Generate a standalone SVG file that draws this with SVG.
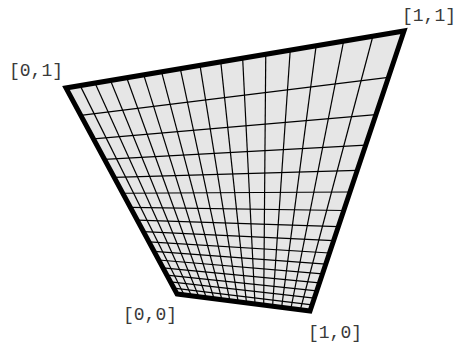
<svg xmlns="http://www.w3.org/2000/svg" width="457" height="345" viewBox="0 0 457 345">
<style>
.lbl{font-family:"Liberation Mono","DejaVu Sans Mono",monospace;font-size:18px;fill:#3a3a3a}
.grid line{stroke:#000;stroke-width:1.2}
.quad{fill:#e6e6e6;stroke:none}
.outline{fill:none;stroke:#000;stroke-width:5;stroke-linejoin:miter}
</style>
<g id="quad-fill"><polygon class="quad" points="177,294 310,311 404,31 66,88"/></g>
<g id="connectors" class="grid">
<line x1="184.14" y1="294.91" x2="80.18" y2="85.61"/>
<line x1="191.41" y1="295.84" x2="95.00" y2="83.11"/>
<line x1="198.83" y1="296.79" x2="110.49" y2="80.50"/>
<line x1="206.38" y1="297.76" x2="126.71" y2="77.76"/>
<line x1="214.09" y1="298.74" x2="143.71" y2="74.89"/>
<line x1="221.95" y1="299.75" x2="161.55" y2="71.89"/>
<line x1="229.96" y1="300.77" x2="180.29" y2="68.73"/>
<line x1="238.14" y1="301.81" x2="200.00" y2="65.40"/>
<line x1="246.48" y1="302.88" x2="220.76" y2="61.90"/>
<line x1="254.99" y1="303.97" x2="242.65" y2="58.21"/>
<line x1="263.68" y1="305.08" x2="265.76" y2="54.31"/>
<line x1="272.56" y1="306.21" x2="290.22" y2="50.19"/>
<line x1="281.62" y1="307.37" x2="316.12" y2="45.82"/>
<line x1="290.88" y1="308.56" x2="343.62" y2="41.18"/>
<line x1="300.34" y1="309.76" x2="372.86" y2="36.25"/>
<line x1="173.87" y1="288.19" x2="312.06" y2="304.87"/>
<line x1="170.51" y1="281.95" x2="314.30" y2="298.18"/>
<line x1="166.87" y1="275.21" x2="316.76" y2="290.86"/>
<line x1="162.94" y1="267.91" x2="319.46" y2="282.81"/>
<line x1="158.68" y1="259.99" x2="322.45" y2="273.91"/>
<line x1="154.02" y1="251.36" x2="325.77" y2="264.04"/>
<line x1="148.94" y1="241.92" x2="329.47" y2="253.00"/>
<line x1="143.35" y1="231.55" x2="333.63" y2="240.60"/>
<line x1="137.19" y1="220.11" x2="338.35" y2="226.55"/>
<line x1="130.35" y1="207.42" x2="343.74" y2="210.51"/>
<line x1="122.72" y1="193.26" x2="349.94" y2="192.02"/>
<line x1="114.16" y1="177.37" x2="357.18" y2="170.46"/>
<line x1="104.47" y1="159.40" x2="365.72" y2="145.03"/>
<line x1="93.44" y1="138.93" x2="375.95" y2="114.55"/>
<line x1="80.75" y1="115.37" x2="388.43" y2="77.37"/>
</g>
<g id="quad-outline"><polygon class="outline" points="177,294 310,311 404,31 66,88"/></g>
<g id="label-00"><text class="lbl" x="123" y="320">[0,0]</text></g>
<g id="label-10"><text class="lbl" x="308" y="338">[1,0]</text></g>
<g id="label-11"><text class="lbl" x="402" y="21">[1,1]</text></g>
<g id="label-01"><text class="lbl" x="9" y="76">[0,1]</text></g>
</svg>
